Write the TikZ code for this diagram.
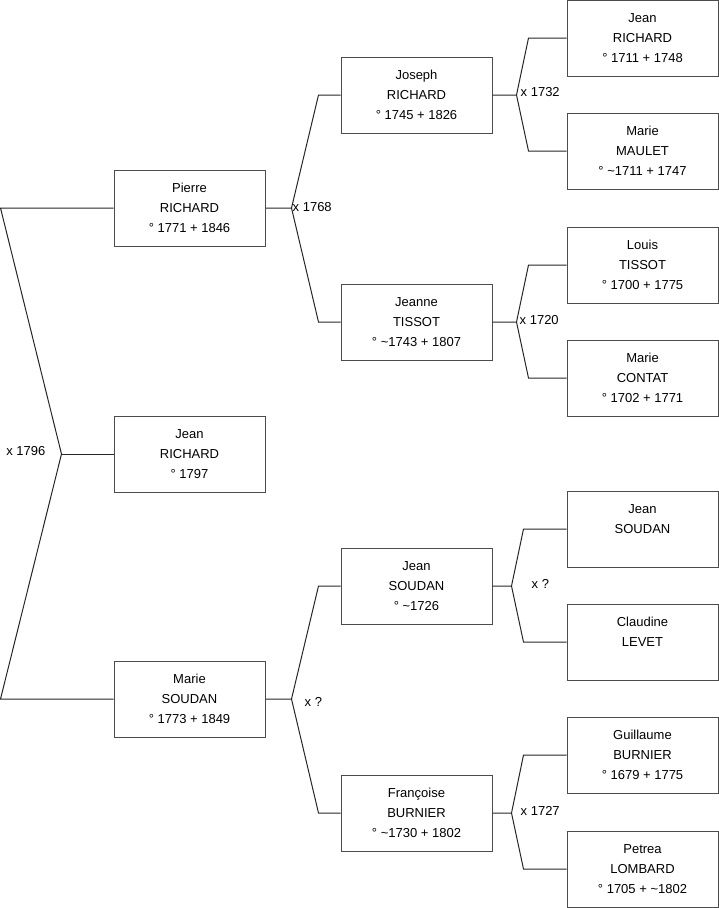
\documentclass[tikz,border=0pt]{standalone}
\usepackage{fontspec}
\setmainfont{Liberation Sans}
\begin{document}
\begin{tikzpicture}[x=1pt,y=-1pt,
  person/.style={draw=black!70,line width=1pt,minimum width=151pt,minimum height=76pt,inner sep=0pt,align=center,font=\fontsize{13}{20}\selectfont},
  link/.style={draw=black!85,line width=1pt},
  wed/.style={inner sep=0pt,font=\fontsize{13}{16}\selectfont}]
\useasboundingbox (0,0) rectangle (719,908);
% child and parents
\node[person] (pierre) at (189.5,208) {Pierre\\RICHARD\\° 1771 + 1846};
\node[person] (child) at (189.5,454) {Jean\\RICHARD\\° 1797};
\node[person] (marie) at (189.5,699) {Marie\\SOUDAN\\° 1773 + 1849};
% grandparents
\node[person] (joseph) at (416.5,95) {Joseph\\RICHARD\\° 1745 + 1826};
\node[person] (jeanne) at (416.5,322) {Jeanne\\TISSOT\\° \textasciitilde1743 + 1807};
\node[person] (jeanS) at (416.5,586) {Jean\\SOUDAN\\° \textasciitilde1726};
\node[person] (francoise) at (416.5,813) {Françoise\\BURNIER\\° \textasciitilde1730 + 1802};
% great-grandparents
\node[person] (jeanR) at (642.5,38) {Jean\\RICHARD\\° 1711 + 1748};
\node[person] (maulet) at (642.5,151) {Marie\\MAULET\\° \textasciitilde1711 + 1747};
\node[person] (louis) at (642.5,265) {Louis\\TISSOT\\° 1700 + 1775};
\node[person] (contat) at (642.5,378) {Marie\\CONTAT\\° 1702 + 1771};
\node[person] (jeanSS) at (642.5,529) {Jean\\SOUDAN\\\rule{0pt}{1pt}};
\node[person] (claudine) at (642.5,642) {Claudine\\LEVET\\\rule{0pt}{1pt}};
\node[person] (guillaume) at (642.5,755) {Guillaume\\BURNIER\\° 1679 + 1775};
\node[person] (petrea) at (642.5,869) {Petrea\\LOMBARD\\° 1705 + \textasciitilde1802};
% marriage 1796
\draw[link] (pierre.west) -- ++(-113,0) coordinate (r1) -- ([xshift=-52]child.west) coordinate (r0) -- ([xshift=-113]marie.west) -- (marie.west);
\draw[link] (r0) -- (child.west);
\node[wed,anchor=east] (w0) at ([xshift=-16,yshift=3]r0) {x 1796};
% marriage 1768
\draw[link] (pierre.east) -- ++(26,0) coordinate (j1) -- ([xshift=-22]joseph.west) -- (joseph.west);
\draw[link] (j1) -- ([xshift=-22]jeanne.west) -- (jeanne.west);
\node[wed,anchor=west] (w1) at ([xshift=1,yshift=1]j1) {x 1768};
% marriage ?
\draw[link] (marie.east) -- ++(26,0) coordinate (j2) -- ([xshift=-22]jeanS.west) -- (jeanS.west);
\draw[link] (j2) -- ([xshift=-22]francoise.west) -- (francoise.west);
\node[wed,anchor=west] (w2) at ([xshift=13,yshift=-3]j2) {x ?};
% marriage 1732
\draw[link] (joseph.east) -- ++(24,0) coordinate (j3) -- ([xshift=-38]jeanR.west) -- (jeanR.west);
\draw[link] (j3) -- ([xshift=-38]maulet.west) -- (maulet.west);
\node[wed,anchor=west] (w3) at ([xshift=4,yshift=3]j3) {x 1732};
% marriage 1720
\draw[link] (jeanne.east) -- ++(24,0) coordinate (j4) -- ([xshift=-38]louis.west) -- (louis.west);
\draw[link] (j4) -- ([xshift=-38]contat.west) -- (contat.west);
\node[wed,anchor=west] (w4) at ([xshift=3,yshift=2]j4) {x 1720};
% marriage ?
\draw[link] (jeanS.east) -- ++(19,0) coordinate (j5) -- ([xshift=-43]jeanSS.west) -- (jeanSS.west);
\draw[link] (j5) -- ([xshift=-43]claudine.west) -- (claudine.west);
\node[wed,anchor=west] (w5) at ([xshift=20,yshift=2]j5) {x ?};
% marriage 1727
\draw[link] (francoise.east) -- ++(19,0) coordinate (j6) -- ([xshift=-43]guillaume.west) -- (guillaume.west);
\draw[link] (j6) -- ([xshift=-43]petrea.west) -- (petrea.west);
\node[wed,anchor=west] (w6) at ([xshift=9,yshift=2]j6) {x 1727};
\end{tikzpicture}
\end{document}
